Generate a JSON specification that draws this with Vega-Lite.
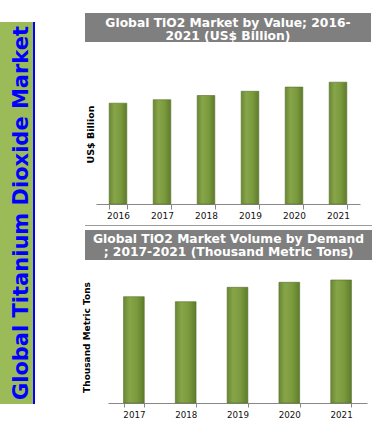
{
  "$schema": "https://vega.github.io/schema/vega-lite/v6.json",
  "padding": 0,
  "background": "white",
  "config": {"view": {"stroke": null}, "axis": {"grid": false}, "font": "DejaVu Sans"},
  "datasets": {
    "value": [
      {"year": "2016", "value": 14.4},
      {"year": "2017", "value": 14.9},
      {"year": "2018", "value": 15.5},
      {"year": "2019", "value": 16.1},
      {"year": "2020", "value": 16.7},
      {"year": "2021", "value": 17.4}
    ],
    "volume": [
      {"year": "2017", "value": 6442},
      {"year": "2018", "value": 6139},
      {"year": "2019", "value": 7012},
      {"year": "2020", "value": 7315},
      {"year": "2021", "value": 7455}
    ]
  },
  "spacing": 85,
  "bounds": "flush",
  "hconcat": [
    {
      "spacing": 0,
      "bounds": "flush",
      "vconcat": [
        {"data": {"values": []}, "mark": "rect", "width": 35, "height": 22, "view": {"fill": "white", "stroke": null}},
        {
          "spacing": 0,
          "bounds": "flush",
          "hconcat": [
            {"data": {"values": []}, "mark": "rect", "width": 10, "height": 382, "view": {"fill": "#9bbb59", "stroke": null}},
            {
              "data": {"values": [{"t": "Global Titanium Dioxide Market"}]},
              "mark": {"type": "text", "angle": 270, "align": "center", "baseline": "middle", "fontSize": 21, "fontWeight": "bold", "color": "#0000ff", "font": "DejaVu Sans"},
              "encoding": {"text": {"field": "t", "type": "nominal"}},
              "width": 23, "height": 382,
              "view": {"fill": "#9bbb59", "stroke": null}
            },
            {"data": {"values": []}, "mark": "rect", "width": 2, "height": 382, "view": {"fill": "#0000ff", "stroke": null}}
          ]
        }
      ]
    },
    {
      "spacing": 0,
      "bounds": "flush",
      "vconcat": [
        {"data": {"values": []}, "mark": "rect", "width": 286, "height": 13},
        {
          "data": {"values": [{"t": "Global TiO2 Market by Value; 2016-\n2021 (US$ Billion)"}]},
          "mark": {"type": "text", "lineBreak": "\n", "align": "center", "baseline": "middle", "fontSize": 12.3, "lineHeight": 12.5, "fontWeight": "bold", "color": "white", "font": "DejaVu Sans", "dy": -4.5},
          "encoding": {"text": {"field": "t", "type": "nominal"}},
          "width": 286, "height": 29,
          "view": {"fill": "#7f7f7f", "stroke": null}
        },
        {"data": {"values": []}, "mark": "rect", "width": 286, "height": 22},
        {
          "spacing": 0,
          "bounds": "flush",
          "hconcat": [
            {"data": {"values": []}, "mark": "rect", "width": 11, "height": 140},
            {
              "data": {"name": "value"},
              "width": 264, "height": 140,
              "mark": {
                "type": "bar",
                "color": {"gradient": "linear", "x1": 0, "x2": 1, "y1": 0, "y2": 0,
                  "stops": [
                    {"offset": 0, "color": "#6a8834"},
                    {"offset": 0.3, "color": "#87a548"},
                    {"offset": 0.65, "color": "#7a9a3d"},
                    {"offset": 1, "color": "#5f7c2c"}
                  ]},
                "stroke": "#566f2a", "strokeWidth": 0.6
              },
              "encoding": {
                "x": {"field": "year", "type": "nominal", "sort": "ascending",
                  "scale": {"paddingInner": 0.6, "paddingOuter": 0.3},
                  "axis": {"title": null, "labelAngle": 0, "tickBand": "extent", "tickSize": 5, "tickColor": "#888888", "domainColor": "#888888", "labelFontSize": 9, "labelColor": "#111111", "labelFont": "DejaVu Sans", "labelPadding": 2}},
                "y": {"field": "value", "type": "quantitative", "scale": {"domain": [0, 20]},
                  "axis": {"title": "US$ Billion", "labels": false, "ticks": false, "domain": false, "grid": false, "titleFontSize": 9.5, "titleFontWeight": "bold", "titleColor": "#000000", "titleFont": "DejaVu Sans", "titlePadding": 1}}
              }
            }
          ]
        },
        {"data": {"values": []}, "mark": "rect", "width": 286, "height": 161},
        {"data": {"values": []}, "mark": "rect", "width": 287, "height": 1, "view": {"fill": "#9a9a9a", "stroke": null}},
        {"data": {"values": []}, "mark": "rect", "width": 286, "height": 4},
        {
          "data": {"values": [{"t": "Global TiO2 Market Volume by  Demand\n; 2017-2021 (Thousand Metric Tons)"}]},
          "mark": {"type": "text", "lineBreak": "\n", "align": "center", "baseline": "middle", "fontSize": 12.3, "lineHeight": 13, "fontWeight": "bold", "color": "white", "font": "DejaVu Sans", "dy": -6},
          "encoding": {"text": {"field": "t", "type": "nominal"}},
          "width": 287, "height": 30,
          "view": {"fill": "#7f7f7f", "stroke": null}
        },
        {"data": {"values": []}, "mark": "rect", "width": 286, "height": 11},
        {
          "spacing": 0,
          "bounds": "flush",
          "hconcat": [
            {"data": {"values": []}, "mark": "rect", "width": 23, "height": 132},
            {
              "data": {"name": "volume"},
              "width": 259, "height": 132,
              "mark": {
                "type": "bar",
                "color": {"gradient": "linear", "x1": 0, "x2": 1, "y1": 0, "y2": 0,
                  "stops": [
                    {"offset": 0, "color": "#6a8834"},
                    {"offset": 0.3, "color": "#87a548"},
                    {"offset": 0.65, "color": "#7a9a3d"},
                    {"offset": 1, "color": "#5f7c2c"}
                  ]},
                "stroke": "#566f2a", "strokeWidth": 0.6
              },
              "encoding": {
                "x": {"field": "year", "type": "nominal", "sort": "ascending",
                  "scale": {"paddingInner": 0.6, "paddingOuter": 0.3},
                  "axis": {"title": null, "labelAngle": 0, "tickBand": "extent", "tickSize": 4, "tickColor": "#888888", "domainColor": "#888888", "labelFontSize": 8.7, "labelColor": "#111111", "labelFont": "DejaVu Sans", "labelPadding": 3}},
                "y": {"field": "value", "type": "quantitative", "scale": {"domain": [0, 8000]},
                  "axis": {"title": "Thousand Metric Tons", "labels": false, "ticks": false, "domain": false, "grid": false, "titleFontSize": 9, "titleFontWeight": "bold", "titleColor": "#000000", "titleFont": "DejaVu Sans", "titlePadding": 17}}
              }
            }
          ]
        }
      ]
    }
  ]
}
